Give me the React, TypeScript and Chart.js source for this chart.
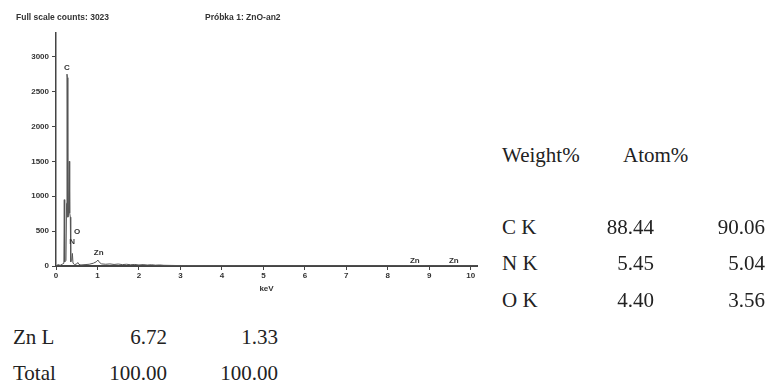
import React, { useEffect, useRef } from 'react';
import { Chart, registerables } from 'chart.js';

Chart.register(...registerables);

// ---- data ----
const spectrumKeV = [0, 0.05, 0.1, 0.15, 0.19, 0.2, 0.21, 0.24, 0.255, 0.265, 0.275, 0.285, 0.3, 0.32, 0.33, 0.345, 0.355, 0.38, 0.395, 0.41, 0.45, 0.5, 0.525, 0.55, 0.6, 0.7, 0.8, 0.9, 0.97, 1.01, 1.05, 1.1, 1.2, 1.3, 1.4, 1.5, 1.6, 1.7, 1.8, 1.9, 2.0, 2.1, 2.2, 2.3, 2.4, 2.5, 2.6, 3, 4, 5, 6, 7, 8, 8.63, 9, 9.57, 10, 10.15];
const spectrumCounts = [0, 20, 10, 25, 40, 950, 60, 80, 900, 2750, 2700, 700, 720, 1500, 760, 700, 60, 80, 180, 40, 20, 30, 50, 25, 15, 20, 25, 40, 60, 85, 50, 30, 25, 30, 22, 28, 20, 25, 18, 22, 15, 20, 14, 18, 12, 15, 10, 6, 4, 3, 2, 2, 2, 6, 2, 4, 2, 0];

const yTicks = [0, 500, 1000, 1500, 2000, 2500, 3000];
const xTicks = [0, 1, 2, 3, 4, 5, 6, 7, 8, 9, 10];

const peakNames = ['C', 'N', 'O', 'Zn', 'Zn', 'Zn'];
const peakKeV = [0.26, 0.39, 0.51, 1.03, 8.65, 9.59];
const peakLabelCounts = [2840, 344, 488, 186, 72, 72];

const headerTitle = 'Full scale counts: 3023';
const sampleTitle = 'Próbka 1: ZnO-an2';
const xAxisTitle = 'keV';

const tableHeaders = ['Weight%', 'Atom%'];
const elements = ['C K', 'N K', 'O K', 'Zn L'];
const weightPct = ['88.44', '5.45', '4.40', '6.72'];
const atomPct = ['90.06', '5.04', '3.56', '1.33'];
const totalLabel = 'Total';
const totals = ['100.00', '100.00'];

const tickFont = { family: '"Liberation Sans", Arial, sans-serif', size: 8, weight: 'bold' as const };
const inkColor = '#333';

const peakLabelPlugin = {
  id: 'peakLabels',
  afterDatasetsDraw(chart: any) {
    const { ctx, scales } = chart;
    const x = scales.x;
    const y = scales.y;
    ctx.save();
    ctx.font = 'bold 8px "Liberation Sans", Arial, sans-serif';
    ctx.fillStyle = inkColor;
    ctx.textAlign = 'center';
    ctx.textBaseline = 'middle';
    peakNames.forEach((n, i) => {
      ctx.fillText(n, x.getPixelForValue(peakKeV[i]), y.getPixelForValue(peakLabelCounts[i]));
    });
    ctx.restore();
  },
};

function Txt(props: { text: string; cy: number; left?: number; right?: number; size?: number; sans?: boolean }) {
  const size = props.size ?? 21;
  const style: any = {
    position: 'absolute',
    top: props.cy - size / 2,
    height: size,
    lineHeight: size + 'px',
    fontSize: size,
    whiteSpace: 'nowrap',
    color: props.sans ? inkColor : '#222',
    fontFamily: props.sans ? '"Liberation Sans", Arial, sans-serif' : '"Liberation Serif", "Times New Roman", serif',
    fontWeight: props.sans ? 'bold' : 'normal',
  };
  if (props.right !== undefined) {
    style.left = props.right - 200;
    style.width = 200;
    style.textAlign = 'right';
  } else {
    style.left = props.left;
  }
  return <div style={style}>{props.text}</div>;
}

export default function App() {
  const canvasRef = useRef<HTMLCanvasElement | null>(null);

  useEffect(() => {
    if (!canvasRef.current) return;
    const chart = new Chart(canvasRef.current, {
      type: 'scatter',
      data: {
        datasets: [
          {
            data: spectrumKeV.map((x, i) => ({ x, y: spectrumCounts[i] })),
            showLine: true,
            borderColor: '#555',
            borderWidth: 1,
            pointRadius: 0,
            tension: 0,
          },
        ],
      },
      options: {
        animation: false,
        responsive: false,
        maintainAspectRatio: false,
        layout: { padding: { top: 33, right: 13, left: 0, bottom: 0 } },
        plugins: { legend: { display: false }, tooltip: { enabled: false }, title: { display: false } },
        scales: {
          x: {
            type: 'linear',
            min: 0,
            max: 10.15,
            afterBuildTicks: (s: any) => {
              s.ticks = xTicks.map((v) => ({ value: v }));
            },
            afterFit: (s: any) => {
              s.height = 34;
            },
            ticks: { includeBounds: false, font: tickFont, color: inkColor, padding: 1, maxRotation: 0, autoSkip: false, callback: (v: any) => String(v) },
            grid: { display: true, drawOnChartArea: false, drawTicks: true, tickLength: 4, color: '#444', lineWidth: 1 },
            border: { display: true, color: '#444', width: 2 },
            title: { display: true, text: xAxisTitle, font: tickFont, color: inkColor, padding: { top: 2, bottom: 6 } },
          },
          y: {
            type: 'linear',
            min: 0,
            max: 3340,
            afterBuildTicks: (s: any) => {
              s.ticks = yTicks.map((v) => ({ value: v }));
            },
            afterFit: (s: any) => {
              s.width = 56;
            },
            ticks: { includeBounds: false, font: tickFont, color: inkColor, padding: 3, autoSkip: false, callback: (v: any) => String(v) },
            grid: { display: true, drawOnChartArea: false, drawTicks: true, tickLength: 4, color: '#444', lineWidth: 1 },
            border: { display: true, color: '#444', width: 1.5 },
          },
        },
      } as any,
      plugins: [peakLabelPlugin],
    });
    return () => chart.destroy();
  }, []);

  const rowY = [227, 263, 300];
  return (
    <div style={{ position: 'absolute', left: 0, top: 0, width: 770, height: 382, background: '#fff', overflow: 'hidden' }}>
      <canvas ref={canvasRef} width={490} height={300} style={{ position: 'absolute', left: 0, top: 0, width: 490, height: 300 }} />
      <Txt text={headerTitle} cy={17} left={16} size={8.5} sans />
      <Txt text={sampleTitle} cy={17} left={205} size={8.5} sans />
      <Txt text={tableHeaders[0]} cy={155} left={502} />
      <Txt text={tableHeaders[1]} cy={155} left={623} />
      {rowY.map((y, i) => (
        <React.Fragment key={i}>
          <Txt text={elements[i]} cy={y} left={502} />
          <Txt text={weightPct[i]} cy={y} right={654} />
          <Txt text={atomPct[i]} cy={y} right={765} />
        </React.Fragment>
      ))}
      <Txt text={elements[3]} cy={337} left={13} />
      <Txt text={weightPct[3]} cy={337} right={167} />
      <Txt text={atomPct[3]} cy={337} right={278} />
      <Txt text={totalLabel} cy={373} left={13} />
      <Txt text={totals[0]} cy={373} right={167} />
      <Txt text={totals[1]} cy={373} right={278} />
    </div>
  );
}
